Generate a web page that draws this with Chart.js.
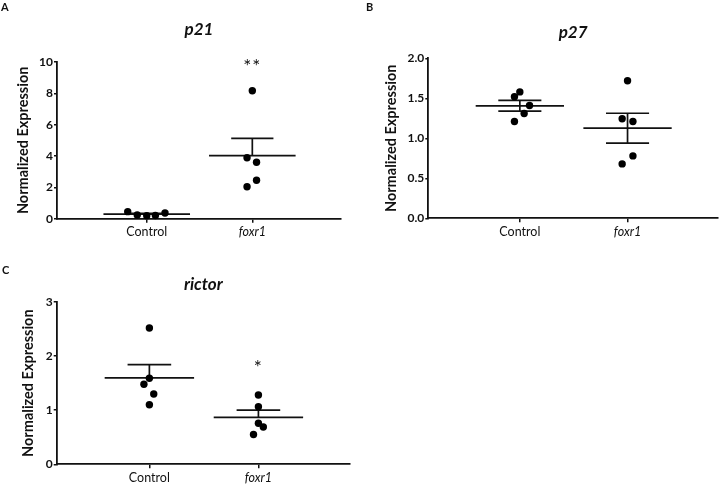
<!DOCTYPE html>
<html lang="en">
<head>
    <meta charset="UTF-8">
    <title>p21 / p27 / rictor expression</title>
    <script src="https://cdn.jsdelivr.net/npm/chart.js"></script>
    <style>
        body {
            margin: 0;
            background: #fff;
            overflow: hidden;
        }
        #figure {
            position: relative;
            width: 722px;
            height: 485px;
            overflow: hidden;
        }
        .panel {
            position: absolute;
        }
        .tag {
            position: absolute;
            font: bold 11px Lato, sans-serif;
            line-height: 11px;
            color: #111;
        }
    </style>
</head>
<body>
    <div id="figure">
        <canvas id="chart-p21" class="panel" width="361" height="240" style="left:0;top:0"></canvas>
        <canvas id="chart-p27" class="panel" width="361" height="240" style="left:361px;top:0"></canvas>
        <canvas id="chart-rictor" class="panel" width="361" height="245" style="left:0;top:240px"></canvas>
        <div class="tag" style="left:1px;top:1px">A</div>
        <div class="tag" style="left:366px;top:1px">B</div>
        <div class="tag" style="left:2px;top:264px">C</div>
    </div>

    <script>
        // groups on the x axis
        const groups = ["Control", "foxr1"];

        // p21 (panel A)
        const p21Control = [0.45, 0.24, 0.19, 0.20, 0.36];
        const p21Foxr1 = [8.17, 3.89, 3.60, 2.45, 2.04];
        const p21ControlJitter = [-0.18, -0.09, 0, 0.082, 0.173];
        const p21Foxr1Jitter = [0, -0.05, 0.04, 0.04, -0.05];
        const p21Ticks = [0, 2, 4, 6, 8, 10];
        const p21Stars = ["", "**"];
        const p21StarsAt = [null, 10];

        // p27 (panel B)
        const p27Control = [1.58, 1.52, 1.41, 1.31, 1.21];
        const p27Foxr1 = [1.72, 1.245, 1.21, 0.78, 0.68];
        const p27ControlJitter = [0, -0.05, 0.09, 0.04, -0.05];
        const p27Foxr1Jitter = [0, -0.05, 0.05, 0.05, -0.05];
        const p27Ticks = [0, 0.5, 1.0, 1.5, 2.0];

        // rictor (panel C)
        const rictorControl = [2.52, 1.59, 1.48, 1.30, 1.10];
        const rictorFoxr1 = [1.28, 1.065, 0.76, 0.69, 0.55];
        const rictorControlJitter = [0, 0, -0.05, 0.04, 0];
        const rictorFoxr1Jitter = [0, 0, 0, 0.045, -0.045];
        const rictorTicks = [0, 1, 2, 3];
        const rictorStars = ["", "*"];
        const rictorStarsAt = [null, 1.87];

        const INK = "#111";

        function mean(arr) {
            return arr.reduce((a, b) => a + b, 0) / arr.length;
        }
        function sem(arr) {
            const m = mean(arr);
            const sd = Math.sqrt(arr.reduce((a, b) => a + (b - m) * (b - m), 0) / (arr.length - 1));
            return sd / Math.sqrt(arr.length);
        }

        // mean line + SEM whiskers, and significance stars
        const meanSemPlugin = {
            id: "meanSem",
            beforeDatasetsDraw(chart, args, opts) {
                const { ctx, scales: { x, y } } = chart;
                const seg = (x1, y1, x2, y2) => {
                    ctx.beginPath();
                    ctx.moveTo(x.getPixelForValue(x1), y.getPixelForValue(y1));
                    ctx.lineTo(x.getPixelForValue(x2), y.getPixelForValue(y2));
                    ctx.stroke();
                };
                ctx.save();
                ctx.strokeStyle = INK;
                ctx.lineWidth = 1.7;
                opts.groups.forEach((vals, i) => {
                    const c = i + 1;
                    const m = mean(vals);
                    const s = sem(vals);
                    seg(c - 0.41, m, c + 0.41, m);
                    seg(c - 0.2, m + s, c + 0.2, m + s);
                    seg(c, m, c, m + s);
                    if (opts.both) {
                        seg(c - 0.2, m - s, c + 0.2, m - s);
                        seg(c, m, c, m - s);
                    }
                });
                ctx.restore();
            },
            afterDatasetsDraw(chart, args, opts) {
                if (!opts.stars) return;
                const { ctx, scales: { x, y } } = chart;
                ctx.save();
                ctx.fillStyle = INK;
                ctx.font = "19px Lato, sans-serif";
                ctx.letterSpacing = "1px";
                ctx.textAlign = "center";
                ctx.textBaseline = "alphabetic";
                opts.stars.forEach((label, i) => {
                    if (!label) return;
                    ctx.fillText(label, x.getPixelForValue(i + 1), y.getPixelForValue(opts.starsAt[i]) + 11);
                });
                ctx.restore();
            }
        };

        function makePanel(id, cfg) {
            const datasets = cfg.values.map((vals, i) => ({
                data: vals.map((v, k) => ({ x: i + 1 + cfg.jitter[i][k], y: v })),
                pointRadius: 3.7,
                pointBackgroundColor: "#000",
                pointBorderWidth: 0,
                showLine: false,
                clip: false
            }));

            new Chart(document.getElementById(id), {
                type: "scatter",
                data: { datasets },
                plugins: [meanSemPlugin],
                options: {
                    responsive: false,
                    animation: false,
                    layout: { padding: { left: 0, top: 0, right: cfg.padRight, bottom: 0 } },
                    plugins: {
                        legend: { display: false },
                        tooltip: { enabled: false },
                        title: {
                            display: true,
                            text: cfg.title,
                            fullSize: false,
                            color: INK,
                            font: { family: "Lato", size: 17, weight: "bold", style: "italic" },
                            padding: { top: cfg.titleTop, bottom: cfg.titleBottom }
                        },
                        meanSem: {
                            groups: cfg.values,
                            both: cfg.bothBars,
                            stars: cfg.stars,
                            starsAt: cfg.starsAt
                        }
                    },
                    scales: {
                        x: {
                            type: "linear",
                            min: 0.15,
                            max: 2.84,
                            afterBuildTicks: s => { s.ticks = groups.map((g, i) => ({ value: i + 1 })); },
                            afterFit: s => { s.height = cfg.xHeight; },
                            ticks: {
                                autoSkip: false,
                                maxRotation: 0,
                                padding: 2,
                                color: INK,
                                callback: v => groups[Math.round(v) - 1],
                                font: c => ({ family: "Lato", size: 12.5, style: c.index === 1 ? "italic" : "normal" })
                            },
                            grid: { drawOnChartArea: false, drawTicks: true, tickLength: 4, color: INK, lineWidth: 1.5 },
                            border: { color: INK, width: 1.8 }
                        },
                        y: {
                            min: 0,
                            max: cfg.ticks[cfg.ticks.length - 1],
                            afterBuildTicks: s => { s.ticks = cfg.ticks.map(v => ({ value: v })); },
                            afterFit: s => { s.width = cfg.yWidth; },
                            ticks: {
                                padding: 1,
                                color: INK,
                                callback: v => v.toFixed(cfg.decimals),
                                font: { family: "Lato", size: 12, weight: "bold" }
                            },
                            grid: { drawOnChartArea: false, drawTicks: true, tickLength: 3, color: INK, lineWidth: 1.5 },
                            border: { color: INK, width: 1.8 },
                            title: {
                                display: true,
                                text: "Normalized Expression",
                                color: INK,
                                font: { family: "Lato", size: 14.5, weight: "bold" },
                                padding: { top: cfg.yTitlePad, bottom: 0 }
                            }
                        }
                    }
                }
            });
        }

        makePanel("chart-p21", {
            title: "p21",
            values: [p21Control, p21Foxr1],
            jitter: [p21ControlJitter, p21Foxr1Jitter],
            ticks: p21Ticks,
            decimals: 0,
            bothBars: false,
            stars: p21Stars,
            starsAt: p21StarsAt,
            yWidth: 57,
            yTitlePad: 14.3,
            xHeight: 21.3,
            padRight: 20,
            titleTop: 19.8,
            titleBottom: 21.8
        });

        makePanel("chart-p27", {
            title: "p27",
            values: [p27Control, p27Foxr1],
            jitter: [p27ControlJitter, p27Foxr1Jitter],
            ticks: p27Ticks,
            decimals: 1,
            bothBars: true,
            yWidth: 67.3,
            yTitlePad: 21.3,
            xHeight: 21.7,
            padRight: 0,
            titleTop: 22.8,
            titleBottom: 15.1
        });

        makePanel("chart-rictor", {
            title: "rictor",
            values: [rictorControl, rictorFoxr1],
            jitter: [rictorControlJitter, rictorFoxr1Jitter],
            ticks: rictorTicks,
            decimals: 0,
            bothBars: false,
            stars: rictorStars,
            starsAt: rictorStarsAt,
            yWidth: 56.7,
            yTitlePad: 19.3,
            xHeight: 20.7,
            padRight: 11,
            titleTop: 34.8,
            titleBottom: 6.8
        });
    </script>
</body>
</html>
